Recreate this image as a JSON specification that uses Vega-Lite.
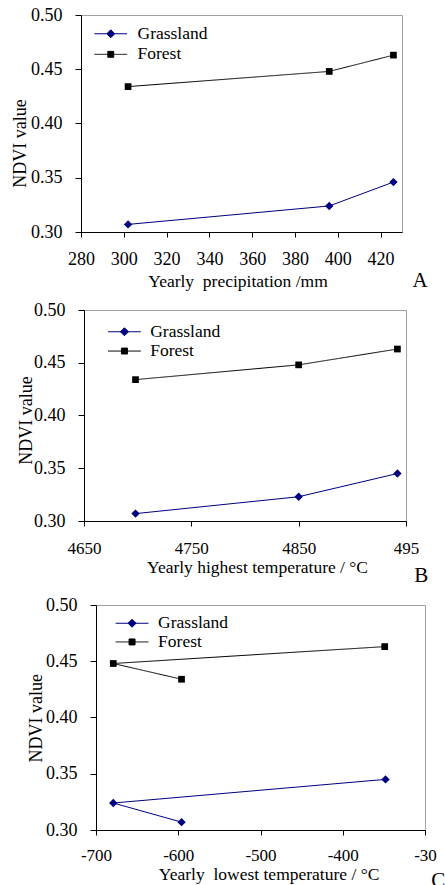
{
  "$schema": "https://vega.github.io/schema/vega-lite/v6.json",
  "padding": {"left": 0, "top": 5, "right": 0, "bottom": 0},
  "background": "white",
  "config": {
    "font": "Liberation Serif",
    "view": {"stroke": "#a0a0a0", "strokeWidth": 1},
    "axis": {"grid": false, "domainColor": "#000000", "tickColor": "#000000", "labelColor": "#000000", "titleColor": "#000000", "labelFont": "Liberation Serif", "titleFont": "Liberation Serif", "labelFontSize": 18, "titleFontSize": 18, "titleFontWeight": "normal", "labelFlush": false, "labelOverlap": false, "tickWidth": 1, "domainWidth": 1},
    "axisX": {"tickSize": 5, "titleFontSize": 17.5, "titleBaseline": "alphabetic"},
    "axisY": {"tickSize": 6, "labelPadding": 13, "titleBaseline": "alphabetic"},
    "legend": {"orient": "none", "title": null, "labelFont": "Liberation Serif", "labelFontSize": 17.5, "labelColor": "#000000", "symbolSize": 64, "symbolOpacity": 1, "symbolStrokeWidth": 1, "padding": 0}
  },
  "spacing": 8,
  "resolve": {"scale": {"color": "independent", "strokeDash": "independent"}, "legend": {"color": "independent", "strokeDash": "independent"}},
  "vconcat": [
    {
      "spacing": 0,
      "resolve": {"scale": {"color": "independent", "strokeDash": "independent"}, "legend": {"color": "independent", "strokeDash": "independent"}},
      "hconcat": [
        {"width": 10, "height": 1, "view": {"stroke": null}, "data": {"values": []}, "mark": {"type": "point", "opacity": 0}, "encoding": {}},
        {
          "width": 321, "height": 217,
          "data": {"values": [
            {"type": "Grassland", "x": 302, "ndvi": 0.307, "ord": 1},
            {"type": "Grassland", "x": 396, "ndvi": 0.324, "ord": 2},
            {"type": "Grassland", "x": 426, "ndvi": 0.346, "ord": 3},
            {"type": "Forest", "x": 302, "ndvi": 0.434, "ord": 1},
            {"type": "Forest", "x": 396, "ndvi": 0.448, "ord": 2},
            {"type": "Forest", "x": 426, "ndvi": 0.463, "ord": 3}
          ]},
          "resolve": {"scale": {"y": "independent"}, "axis": {"y": "independent"}},
          "layer": [
            {
              "encoding": {
                "x": {"field": "x", "type": "quantitative", "scale": {"domain": [280, 430], "nice": false, "zero": false},
                      "axis": {"values": [280, 300, 320, 340, 360, 380, 400, 420], "labelPadding": 13, "title": "Yearly\u00a0 precipitation /mm", "titleX": 156.5, "titleY": 54.3, "labelExpr": "'' + datum.value"}},
                "y": {"field": "ndvi", "type": "quantitative", "scale": {"domain": [0.3, 0.5], "nice": false, "zero": false},
                      "axis": {"orient": "left", "values": [0.3, 0.35, 0.4, 0.45, 0.5], "format": ".2f", "title": "NDVI value", "titleX": -56, "titleY": 128}}
              },
              "layer": [
                {"mark": {"type": "line", "strokeWidth": 1},
                 "encoding": {
                   "color": {"field": "type", "type": "nominal", "scale": {"domain": ["Grassland", "Forest"], "range": ["#000080", "#000000"]},
                             "legend": {"values": ["Grassland"], "legendX": 21, "legendY": 10, "labelOffset": 18, "symbolType": "M-4.1,0L4.1,0M0,-1L1,0L0,1L-1,0Z", "symbolFillColor": "#000080", "symbolStrokeWidth": 1}},
                   "strokeDash": {"field": "type", "type": "nominal", "scale": {"domain": ["Forest"], "range": [[1, 0]]},
                                  "legend": {"values": ["Forest"], "legendX": 21, "legendY": 30.6, "labelOffset": 18, "symbolType": "M-4.1,0L4.1,0M-0.75,-0.75L0.75,-0.75L0.75,0.75L-0.75,0.75Z", "symbolFillColor": "#000000", "symbolStrokeColor": "#000000", "symbolStrokeWidth": 1}},
                   "order": {"field": "ord", "type": "quantitative"}}},
                {"transform": [{"filter": "datum.type === 'Grassland'"}], "mark": {"type": "point", "shape": "diamond", "filled": true, "color": "#000080", "size": 70, "opacity": 1}},
                {"transform": [{"filter": "datum.type === 'Forest'"}], "mark": {"type": "point", "shape": "square", "filled": true, "color": "#000000", "size": 45, "opacity": 1}}
              ]
            },
            {
              "mark": {"type": "point", "opacity": 0},
              "encoding": {
                "y": {"field": "ndvi", "type": "quantitative", "scale": {"domain": [0.3, 0.5], "nice": false, "zero": false},
                      "axis": {"orient": "right", "title": "A", "domain": false, "ticks": false, "labels": false, "titleAngle": 0, "titleX": 10, "titleY": 271.7, "titleAlign": "left", "titleBaseline": "alphabetic", "titleFontSize": 21, "titlePadding": 0}}
              }
            }
          ]
        }
      ]
    },
    {
      "spacing": 0,
      "resolve": {"scale": {"color": "independent", "strokeDash": "independent"}, "legend": {"color": "independent", "strokeDash": "independent"}},
      "hconcat": [
        {"width": 16, "height": 1, "view": {"stroke": null}, "data": {"values": []}, "mark": {"type": "point", "opacity": 0}, "encoding": {}},
        {
          "width": 322, "height": 211,
          "data": {"values": [
            {"type": "Grassland", "x": 4698, "ndvi": 0.307, "ord": 1},
            {"type": "Grassland", "x": 4850, "ndvi": 0.323, "ord": 2},
            {"type": "Grassland", "x": 4942, "ndvi": 0.345, "ord": 3},
            {"type": "Forest", "x": 4698, "ndvi": 0.434, "ord": 1},
            {"type": "Forest", "x": 4850, "ndvi": 0.448, "ord": 2},
            {"type": "Forest", "x": 4942, "ndvi": 0.463, "ord": 3}
          ]},
          "resolve": {"scale": {"y": "independent"}, "axis": {"y": "independent"}},
          "layer": [
            {
              "encoding": {
                "x": {"field": "x", "type": "quantitative", "scale": {"domain": [4650, 4950], "nice": false, "zero": false},
                      "axis": {"values": [4650, 4750, 4850, 4950], "labelFontSize": 17, "labelPadding": 14, "title": "Yearly highest temperature / \u00b0C", "titleX": 173, "titleY": 51, "labelExpr": "datum.value == 4950 ? '495\u2007' : '' + datum.value"}},
                "y": {"field": "ndvi", "type": "quantitative", "scale": {"domain": [0.3, 0.5], "nice": false, "zero": false},
                      "axis": {"orient": "left", "values": [0.3, 0.35, 0.4, 0.45, 0.5], "format": ".2f", "title": "NDVI value", "titleX": -53, "titleY": 110}}
              },
              "layer": [
                {"mark": {"type": "line", "strokeWidth": 1},
                 "encoding": {
                   "color": {"field": "type", "type": "nominal", "scale": {"domain": ["Grassland", "Forest"], "range": ["#000080", "#000000"]},
                             "legend": {"values": ["Grassland"], "legendX": 31.7, "legendY": 13, "labelOffset": 17, "symbolType": "M-4.1,0L4.1,0M0,-1L1,0L0,1L-1,0Z", "symbolFillColor": "#000080", "symbolStrokeWidth": 1}},
                   "strokeDash": {"field": "type", "type": "nominal", "scale": {"domain": ["Forest"], "range": [[1, 0]]},
                                  "legend": {"values": ["Forest"], "legendX": 31.7, "legendY": 32.3, "labelOffset": 17, "symbolType": "M-4.1,0L4.1,0M-0.75,-0.75L0.75,-0.75L0.75,0.75L-0.75,0.75Z", "symbolFillColor": "#000000", "symbolStrokeColor": "#000000", "symbolStrokeWidth": 1}},
                   "order": {"field": "ord", "type": "quantitative"}}},
                {"transform": [{"filter": "datum.type === 'Grassland'"}], "mark": {"type": "point", "shape": "diamond", "filled": true, "color": "#000080", "size": 70, "opacity": 1}},
                {"transform": [{"filter": "datum.type === 'Forest'"}], "mark": {"type": "point", "shape": "square", "filled": true, "color": "#000000", "size": 45, "opacity": 1}}
              ]
            },
            {
              "mark": {"type": "point", "opacity": 0},
              "encoding": {
                "y": {"field": "ndvi", "type": "quantitative", "scale": {"domain": [0.3, 0.5], "nice": false, "zero": false},
                      "axis": {"orient": "right", "title": "B", "domain": false, "ticks": false, "labels": false, "titleAngle": 0, "titleX": 7.7, "titleY": 271.7, "titleAlign": "left", "titleBaseline": "alphabetic", "titleFontSize": 21, "titlePadding": 0}}
              }
            }
          ]
        }
      ]
    },
    {
      "spacing": 0,
      "resolve": {"scale": {"color": "independent", "strokeDash": "independent"}, "legend": {"color": "independent", "strokeDash": "independent"}},
      "hconcat": [
        {"width": 26, "height": 1, "view": {"stroke": null}, "data": {"values": []}, "mark": {"type": "point", "opacity": 0}, "encoding": {}},
        {
          "width": 329, "height": 225,
          "data": {"values": [
            {"type": "Grassland", "x": -596, "ndvi": 0.307, "ord": 1},
            {"type": "Grassland", "x": -679, "ndvi": 0.324, "ord": 2},
            {"type": "Grassland", "x": -348, "ndvi": 0.345, "ord": 3},
            {"type": "Forest", "x": -596, "ndvi": 0.434, "ord": 1},
            {"type": "Forest", "x": -679, "ndvi": 0.448, "ord": 2},
            {"type": "Forest", "x": -349, "ndvi": 0.463, "ord": 3}
          ]},
          "resolve": {"scale": {"y": "independent"}, "axis": {"y": "independent"}},
          "layer": [
            {
              "encoding": {
                "x": {"field": "x", "type": "quantitative", "scale": {"domain": [-700, -300], "nice": false, "zero": false},
                      "axis": {"values": [-700, -600, -500, -400, -300], "labelFontSize": 17, "labelPadding": 12, "title": "Yearly\u00a0 lowest temperature / \u00b0C", "titleX": 172.6, "titleY": 49.3, "labelExpr": "datum.value == -300 ? '-30\u2007' : '' + datum.value"}},
                "y": {"field": "ndvi", "type": "quantitative", "scale": {"domain": [0.3, 0.5], "nice": false, "zero": false},
                      "axis": {"orient": "left", "values": [0.3, 0.35, 0.4, 0.45, 0.5], "format": ".2f", "title": "NDVI value", "titleX": -55, "titleY": 112.7}}
              },
              "layer": [
                {"mark": {"type": "line", "strokeWidth": 1},
                 "encoding": {
                   "color": {"field": "type", "type": "nominal", "scale": {"domain": ["Grassland", "Forest"], "range": ["#000080", "#000000"]},
                             "legend": {"values": ["Grassland"], "legendX": 27.3, "legendY": 9.5, "labelOffset": 17.3, "symbolType": "M-4.1,0L4.1,0M0,-1L1,0L0,1L-1,0Z", "symbolFillColor": "#000080", "symbolStrokeWidth": 1}},
                   "strokeDash": {"field": "type", "type": "nominal", "scale": {"domain": ["Forest"], "range": [[1, 0]]},
                                  "legend": {"values": ["Forest"], "legendX": 27.3, "legendY": 28.2, "labelOffset": 17.3, "symbolType": "M-4.1,0L4.1,0M-0.75,-0.75L0.75,-0.75L0.75,0.75L-0.75,0.75Z", "symbolFillColor": "#000000", "symbolStrokeColor": "#000000", "symbolStrokeWidth": 1}},
                   "order": {"field": "ord", "type": "quantitative"}}},
                {"transform": [{"filter": "datum.type === 'Grassland'"}], "mark": {"type": "point", "shape": "diamond", "filled": true, "color": "#000080", "size": 70, "opacity": 1}},
                {"transform": [{"filter": "datum.type === 'Forest'"}], "mark": {"type": "point", "shape": "square", "filled": true, "color": "#000000", "size": 45, "opacity": 1}}
              ]
            },
            {
              "mark": {"type": "point", "opacity": 0},
              "encoding": {
                "y": {"field": "ndvi", "type": "quantitative", "scale": {"domain": [0.3, 0.5], "nice": false, "zero": false},
                      "axis": {"orient": "right", "title": "C", "domain": false, "ticks": false, "labels": false, "titleAngle": 0, "titleX": 5.7, "titleY": 281.6, "titleAlign": "left", "titleBaseline": "alphabetic", "titleFontSize": 21, "titlePadding": 0}}
              }
            }
          ]
        }
      ]
    }
  ]
}
